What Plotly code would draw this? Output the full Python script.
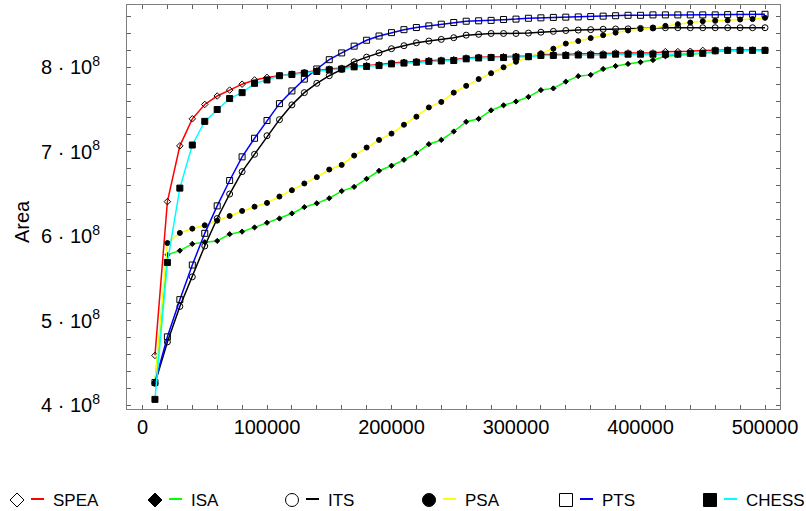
import plotly.graph_objects as go

# ---------------- data (Area values in units of 1e8) ----------------
evaluations = list(range(10000, 500001, 10000))

spea = [4.59, 6.41, 7.07, 7.39, 7.56, 7.66, 7.73, 7.80, 7.85, 7.88,
        7.90, 7.92, 7.94, 7.96, 7.98, 7.99, 8.01, 8.02, 8.03, 8.05,
        8.06, 8.07, 8.08, 8.085, 8.09, 8.11, 8.12, 8.12, 8.125, 8.13,
        8.13, 8.15, 8.15, 8.15, 8.16, 8.16, 8.16, 8.17, 8.17, 8.17,
        8.17, 8.185, 8.185, 8.19, 8.20, 8.205, 8.205, 8.205, 8.205, 8.205]

isa = [4.27, 5.78, 5.83, 5.91, 5.93, 5.945, 6.025, 6.055, 6.105, 6.16,
       6.21, 6.27, 6.345, 6.39, 6.45, 6.535, 6.585, 6.68, 6.775, 6.835,
       6.905, 6.985, 7.09, 7.14, 7.24, 7.355, 7.39, 7.49, 7.55, 7.595,
       7.65, 7.73, 7.75, 7.83, 7.895, 7.91, 7.98, 8.015, 8.04, 8.06,
       8.085, 8.13, 8.145, 8.155, 8.165, 8.185, 8.195, 8.20, 8.20, 8.20]

its = [4.26, 4.75, 5.17, 5.52, 5.885, 6.21, 6.50, 6.765, 6.97, 7.19,
       7.38, 7.555, 7.70, 7.81, 7.90, 7.975, 8.065, 8.12, 8.17, 8.22,
       8.255, 8.29, 8.31, 8.33, 8.35, 8.38, 8.39, 8.40, 8.40, 8.40,
       8.405, 8.415, 8.425, 8.435, 8.44, 8.445, 8.45, 8.453, 8.455, 8.46,
       8.465, 8.468, 8.468, 8.468, 8.468, 8.468, 8.468, 8.468, 8.468, 8.468]

psa = [4.27, 5.92, 6.04, 6.09, 6.13, 6.185, 6.24, 6.30, 6.35, 6.395,
       6.47, 6.545, 6.625, 6.70, 6.79, 6.845, 6.955, 7.05, 7.14, 7.215,
       7.32, 7.415, 7.525, 7.59, 7.70, 7.78, 7.86, 7.93, 8.00, 8.065,
       8.12, 8.165, 8.22, 8.28, 8.31, 8.345, 8.38, 8.41, 8.435, 8.455,
       8.465, 8.49, 8.51, 8.53, 8.545, 8.55, 8.555, 8.565, 8.57, 8.585]

pts = [4.27, 4.81, 5.25, 5.66, 6.035, 6.36, 6.66, 6.94, 7.16, 7.37,
       7.57, 7.72, 7.86, 7.98, 8.09, 8.17, 8.25, 8.32, 8.37, 8.41,
       8.445, 8.47, 8.49, 8.51, 8.53, 8.545, 8.55, 8.555, 8.565, 8.57,
       8.58, 8.585, 8.59, 8.593, 8.596, 8.60, 8.605, 8.61, 8.615, 8.615,
       8.62, 8.62, 8.62, 8.62, 8.62, 8.62, 8.623, 8.625, 8.627, 8.627]

chess = [4.07, 5.69, 6.57, 7.08, 7.36, 7.50, 7.63, 7.70, 7.81, 7.85,
         7.90, 7.915, 7.93, 7.95, 7.97, 7.98, 8.005, 8.01, 8.02, 8.04,
         8.05, 8.06, 8.07, 8.075, 8.08, 8.10, 8.11, 8.115, 8.115, 8.12,
         8.125, 8.14, 8.14, 8.14, 8.145, 8.145, 8.145, 8.155, 8.155, 8.155,
         8.155, 8.155, 8.155, 8.165, 8.165, 8.195, 8.20, 8.20, 8.20, 8.20]

series_names = ["SPEA", "ISA", "ITS", "PSA", "PTS", "CHESS"]
series_values = [spea, isa, its, psa, pts, chess]

x_major_ticks = [0, 100000, 200000, 300000, 400000, 500000]
x_tick_labels = ["0", "100000", "200000", "300000", "400000", "500000"]
y_major_ticks = [4e8, 5e8, 6e8, 7e8, 8e8]
y_tick_labels = ["4 · 10<sup>8</sup>", "5 · 10<sup>8</sup>", "6 · 10<sup>8</sup>",
                 "7 · 10<sup>8</sup>", "8 · 10<sup>8</sup>"]

# ---------------- styles ----------------
line_colors = ["#ff0000", "#00ff00", "#000000", "#ffff00", "#0000ff", "#00ffff"]
symbols = ["diamond-open", "diamond", "circle-open", "circle", "square-open", "square"]
msizes = [5, 4, 6, 5, 6, 6]

FONT = "Liberation Sans, Arial, Helvetica, sans-serif"
W, H = 806, 511
ML, MR, MT, MB = 127, 26, 5, 102
PW, PH = W - ML - MR, H - MT - MB

fig = go.Figure()
for name, vals, lc, sym, ms in zip(series_names, series_values, line_colors, symbols, msizes):
    fig.add_trace(go.Scatter(
        x=evaluations, y=[v * 1e8 for v in vals], name=name,
        mode="lines+markers",
        line=dict(color=lc, width=1.5),
        marker=dict(symbol=sym, size=ms, color="black",
                    line=dict(color="black", width=1)),
        showlegend=False,
    ))

axis_common = dict(showgrid=False, zeroline=False, showline=True, linecolor="#808080",
                   linewidth=1, mirror="ticks", ticks="inside", ticklen=4,
                   tickcolor="#606060", tickfont=dict(family=FONT, size=20, color="black"))

fig.update_layout(
    width=W, height=H,
    margin=dict(l=ML, r=MR, t=MT, b=MB),
    paper_bgcolor="white", plot_bgcolor="white",
    xaxis=dict(range=[-12450, 512050], tickmode="array", tickvals=x_major_ticks,
               ticktext=x_tick_labels, ticklabelstandoff=0,
               minor=dict(tick0=0, dtick=20000, ticks="inside", ticklen=4,
                          tickcolor="#606060", showgrid=False),
               **axis_common),
    yaxis=dict(range=[3.956e8, 8.737e8], tickmode="array", tickvals=y_major_ticks,
               ticktext=y_tick_labels, ticklabelstandoff=22,
               minor=dict(tick0=4e8, dtick=0.2e8, ticks="inside", ticklen=4,
                          tickcolor="#606060", showgrid=False),
               **axis_common),
    showlegend=False,
)


def px(x):
    return (x - ML) / PW


def py(y):
    return (H - MB - y) / PH


annotations = [dict(text="Area", x=px(22), y=py(222), xref="paper", yref="paper",
                    textangle=-90, showarrow=False, xanchor="center", yanchor="middle",
                    font=dict(family=FONT, size=20, color="black"))]
shapes = []

legend_centers = [17, 155, 292, 429, 566, 710]
ly = 500
for cx, name, lc, sym in zip(legend_centers, series_names, line_colors, symbols):
    filled = not sym.endswith("open")
    fill = "black" if filled else "white"
    if sym.startswith("diamond"):
        r = 7
        path = "M {} {} L {} {} L {} {} L {} {} Z".format(
            px(cx - r), py(ly), px(cx), py(ly - r), px(cx + r), py(ly), px(cx), py(ly + r))
        shapes.append(dict(type="path", path=path, xref="paper", yref="paper",
                           fillcolor=fill, line=dict(color="black", width=1)))
    elif sym.startswith("circle"):
        r = 6.5
        shapes.append(dict(type="circle", xref="paper", yref="paper",
                           x0=px(cx - r), x1=px(cx + r), y0=py(ly + r), y1=py(ly - r),
                           fillcolor=fill, line=dict(color="black", width=1)))
    else:
        r = 6.5
        shapes.append(dict(type="rect", xref="paper", yref="paper",
                           x0=px(cx - r), x1=px(cx + r), y0=py(ly + r), y1=py(ly - r),
                           fillcolor=fill, line=dict(color="black", width=1)))
    shapes.append(dict(type="line", xref="paper", yref="paper",
                       x0=px(cx + 14), x1=px(cx + 27), y0=py(ly - 1), y1=py(ly - 1),
                       line=dict(color=lc, width=2)))
    annotations.append(dict(text=name, x=px(cx + 34), y=py(ly), xref="paper", yref="paper",
                            showarrow=False, xanchor="left", yanchor="middle",
                            font=dict(family=FONT, size=17, color="black")))

fig.update_layout(annotations=annotations, shapes=shapes)
fig.write_html("out.html")
